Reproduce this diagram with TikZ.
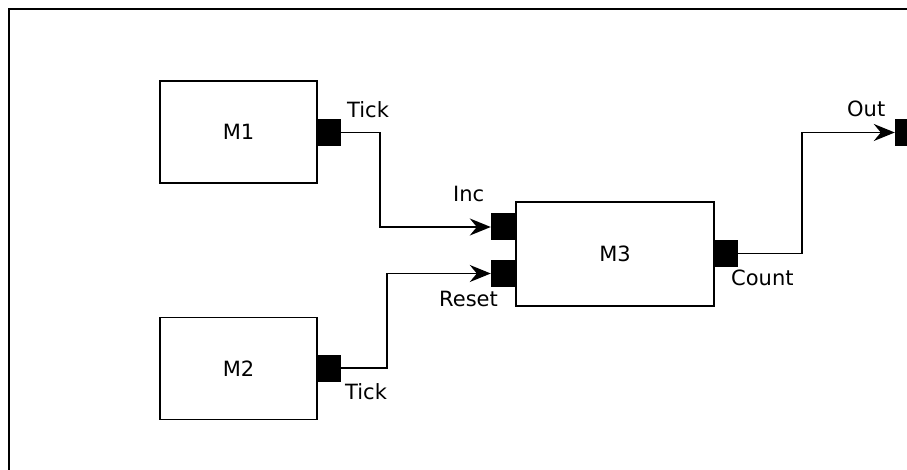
\documentclass[tikz,border=0pt]{standalone}
\usepackage{fontspec}
\setmainfont{DejaVu Sans}
\usetikzlibrary{arrows.meta}
\begin{document}
\begin{tikzpicture}[x=1pt,y=-1pt,
  module/.style={draw,line width=1.9pt,fill=white,minimum width=157pt,minimum height=102pt,inner sep=0pt,font=\fontsize{21}{24}\selectfont},
  port/.style={fill=black,draw=none,minimum width=24pt,minimum height=27pt,inner sep=0pt},
  lbl/.style={inner sep=0pt,anchor=base west,font=\fontsize{21}{24}\selectfont},
  wire/.style={line width=1.8pt,-{Stealth[length=21pt,width=17pt,inset=7pt]}},
  plain/.style={line width=1.8pt}]
\useasboundingbox (0,0) rectangle (907,470);
\clip (0,0) rectangle (907,470);
\draw[line width=2pt] (9,9) rectangle (940,500);
\node[module] (m1) at (238.5,132) {M1};
\node[module] (m2) at (238.5,368.5) {M2};
\node[module,minimum width=198pt,minimum height=104pt] (m3) at (615,254) {M3};
\node[port] (p1) at (329,132.5) {};
\node[port] (p2) at (329,368) {};
\node[port,minimum width=25pt] (inc) at (503.5,227) {};
\node[port,minimum width=25pt] (reset) at (503.5,273.5) {};
\node[port] (count) at (726,253.5) {};
\node[port] (out) at (907,132.5) {};
\node[lbl] (l1) at (347,118) {Tick};
\node[lbl] (l2) at (345,399) {Tick};
\node[lbl] (l3) at (453,202) {Inc};
\node[lbl] (l4) at (439,306) {Reset};
\node[lbl] (l5) at (731,285) {Count};
\node[lbl] (l6) at (847,117) {Out};
\draw[wire] (p1.east) -- ++(39,0) |- (inc.west);
\draw[wire] (p2.east) -- ++(46,0) |- (reset.west);
\draw[wire] (count.east) -- ++(64,0) |- (out.west);
\end{tikzpicture}
\end{document}
